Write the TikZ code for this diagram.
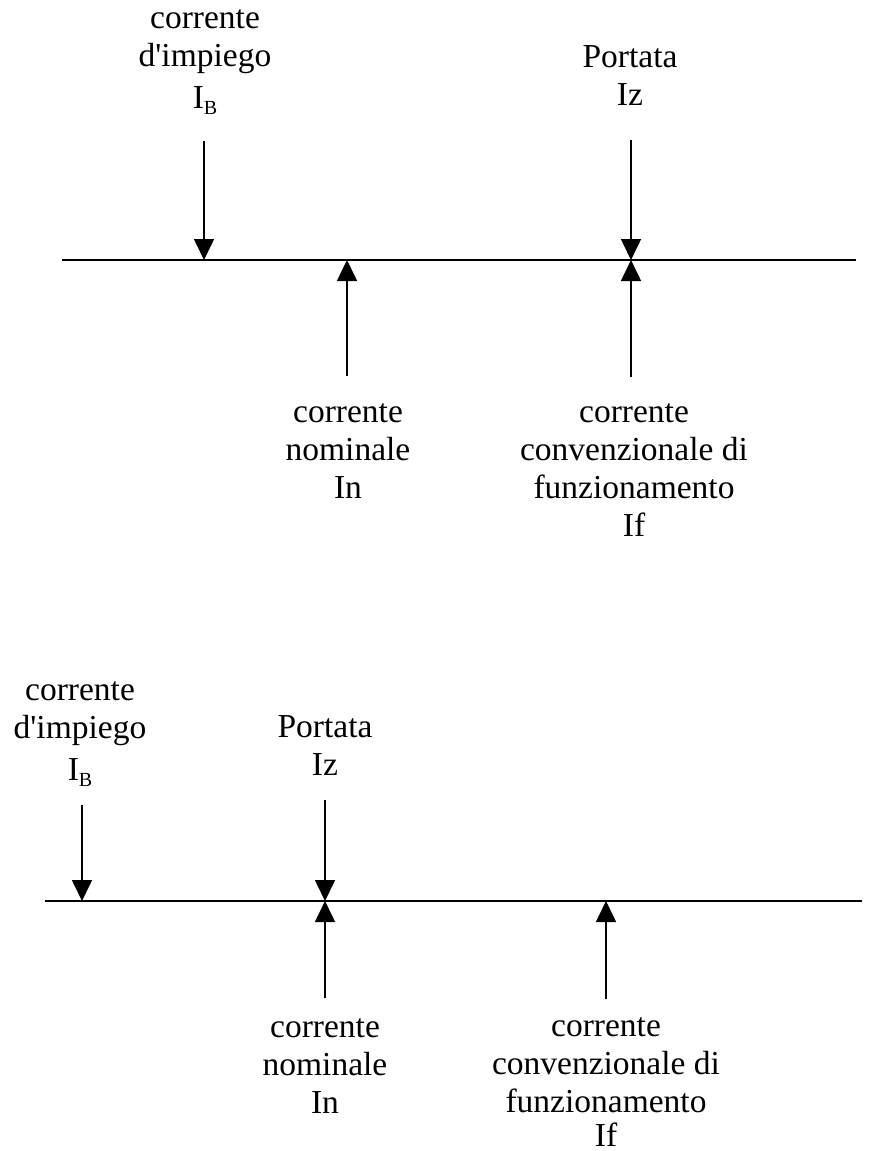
\documentclass[tikz,border=0pt]{standalone}
\usepackage{fontspec}
\setmainfont{Liberation Serif}
\usetikzlibrary{arrows.meta}
\begin{document}
\begin{tikzpicture}[x=1pt,y=-1pt,
  axis/.style={line width=1.6pt},
  arr/.style={line width=1.6pt,-{Triangle[width=20pt,length=21pt]}},
  lbl/.style={align=center,inner sep=0pt,anchor=north,font=\fontsize{33.5}{38}\selectfont}]
\useasboundingbox (0,0) rectangle (878,1151);
\newcommand{\IBsub}{I\raisebox{-6pt}{\fontsize{20}{20}\selectfont B}}
\newcommand{\dimp}{d\textquotesingle impiego}
% ---------- top diagram ----------
\coordinate (a1) at (62,260);
\coordinate (a2) at (856,260);
\draw[axis] (a1) -- (a2);
\node[lbl] (tIB) at (205,9) {corrente\\\dimp\\[4pt]\IBsub};
\node[lbl] (tIz) at (630,45) {Portata\\Iz};
\node[lbl] (tIn) at (348,403) {corrente\\nominale\\In};
\node[lbl] (tIf) at (634,403) {corrente\\convenzionale di\\funzionamento\\If};
\coordinate (tIBs) at (204,141);
\coordinate (tIBe) at (204,260);
\coordinate (tIzs) at (631,140);
\coordinate (tIze) at (631,260);
\coordinate (tIns) at (347,376);
\coordinate (tIne) at (347,260);
\coordinate (tIfs) at (631,377);
\coordinate (tIfe) at (631,260);
\draw[arr] (tIBs) -- (tIBe);
\draw[arr] (tIzs) -- (tIze);
\draw[arr] (tIns) -- (tIne);
\draw[arr] (tIfs) -- (tIfe);
% ---------- bottom diagram ----------
\coordinate (b1) at (45,901);
\coordinate (b2) at (862,901);
\draw[axis] (b1) -- (b2);
\node[lbl] (bIB) at (80,681) {corrente\\\dimp\\[4pt]\IBsub};
\node[lbl] (bIz) at (325,715) {Portata\\Iz};
\node[lbl] (bIn) at (325,1018) {corrente\\nominale\\In};
\node[lbl] (bIf) at (606,1017) {corrente\\convenzionale di\\funzionamento\\[-4pt]If};
\coordinate (bIBs) at (82,805);
\coordinate (bIBe) at (82,901);
\coordinate (bIzs) at (325,800);
\coordinate (bIze) at (325,901);
\coordinate (bIns) at (325,998);
\coordinate (bIne) at (325,901);
\coordinate (bIfs) at (606,999);
\coordinate (bIfe) at (606,901);
\draw[arr] (bIBs) -- (bIBe);
\draw[arr] (bIzs) -- (bIze);
\draw[arr] (bIns) -- (bIne);
\draw[arr] (bIfs) -- (bIfe);
\end{tikzpicture}
\end{document}
